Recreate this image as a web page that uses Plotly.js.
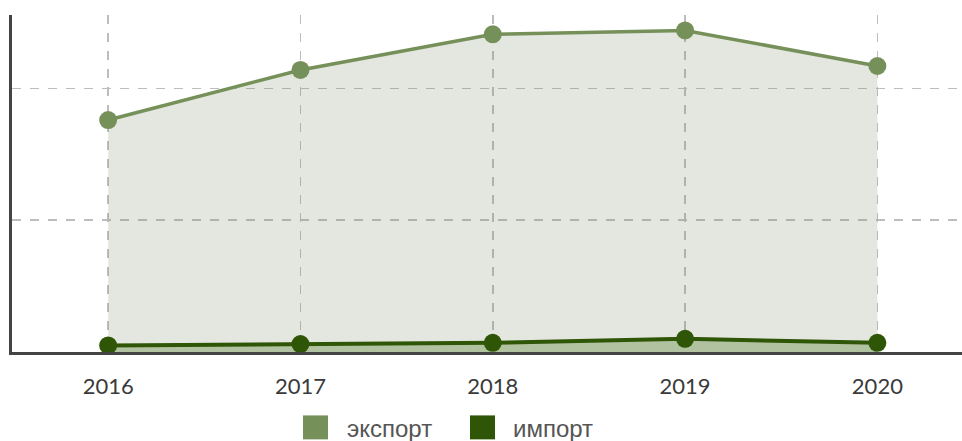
<!DOCTYPE html>
<html>
<head>
<meta charset="utf-8">
<script src="https://cdn.plot.ly/plotly-3.0.1.min.js"></script>
<style>html,body{margin:0;padding:0;background:#fff;}#chart{width:962px;height:441px;}</style>
</head>
<body>
<div id="chart"></div>
<script>
const years = ['2016', '2017', '2018', '2019', '2020'];
const exportVals = [176, 214, 241, 244, 217];
const importVals = [5, 6, 7, 10, 7];
const seriesNames = ['экспорт', 'импорт'];
const exportColor = '#76905a';
const importColor = '#2e5606';

const traces = [
  {
    x: years, y: exportVals, name: seriesNames[0], type: 'scatter', mode: 'lines+markers',
    fill: 'tozeroy', fillcolor: 'rgba(130,145,110,0.22)',
    line: {color: exportColor, width: 3.5}, marker: {color: exportColor, size: 18},
    showlegend: false, hoverinfo: 'x+y'
  },
  {
    x: years, y: importVals, name: seriesNames[1], type: 'scatter', mode: 'lines+markers',
    fill: 'tozeroy', fillcolor: 'rgba(60,110,20,0.3)',
    line: {color: importColor, width: 4}, marker: {color: importColor, size: 18},
    showlegend: false, hoverinfo: 'x+y'
  }
];

const layout = {
  width: 962, height: 441,
  margin: {l: 12, r: 0, t: 15, b: 88.5, pad: 0},
  paper_bgcolor: '#fff', plot_bgcolor: '#fff',
  showlegend: false,
  xaxis: {
    type: 'category', range: [-0.5, 4.44],
    showgrid: true, gridcolor: '#bdbdbd', gridwidth: 1.5, griddash: 'dash',
    showline: true, linecolor: '#444', linewidth: 2.5,
    zeroline: false,
    ticks: 'outside', ticklen: 13, tickcolor: 'rgba(0,0,0,0)',
    tickfont: {family: 'Lato, sans-serif', size: 22, color: '#3a3a3a'},
    fixedrange: true
  },
  yaxis: {
    range: [0, 255.7], dtick: 100, tick0: 0,
    showgrid: true, gridcolor: '#bdbdbd', gridwidth: 1.5, griddash: 'dash',
    showline: true, linecolor: '#444', linewidth: 3,
    zeroline: false, showticklabels: false, ticks: '',
    fixedrange: true
  },
  shapes: [],
  annotations: []
};

// Legend drawn manually (large square swatches) in pixel-based paper coords
const plotW = 962 - 12, plotH = 441 - 15 - 88.5;
function px2x(px) { return (px - 12) / plotW; }
function py2y(py) { return (441 - 88.5 - py) / plotH; }
const legendItems = [
  {name: seriesNames[0], color: exportColor, sq: 303, tx: 345},
  {name: seriesNames[1], color: importColor, sq: 470, tx: 511}
];
legendItems.forEach(it => {
  layout.shapes.push({
    type: 'rect', xref: 'paper', yref: 'paper',
    x0: px2x(it.sq), x1: px2x(it.sq + 25), y0: py2y(416), y1: py2y(440),
    fillcolor: it.color, line: {width: 0}
  });
  layout.annotations.push({
    xref: 'paper', yref: 'paper', x: px2x(it.tx), y: py2y(429),
    xanchor: 'left', yanchor: 'middle', showarrow: false,
    text: it.name, font: {family: 'Liberation Sans, Arial, sans-serif', size: 24, color: '#555'}
  });
});

Plotly.newPlot('chart', traces, layout, {displayModeBar: false, staticPlot: true});
</script>
</body>
</html>
